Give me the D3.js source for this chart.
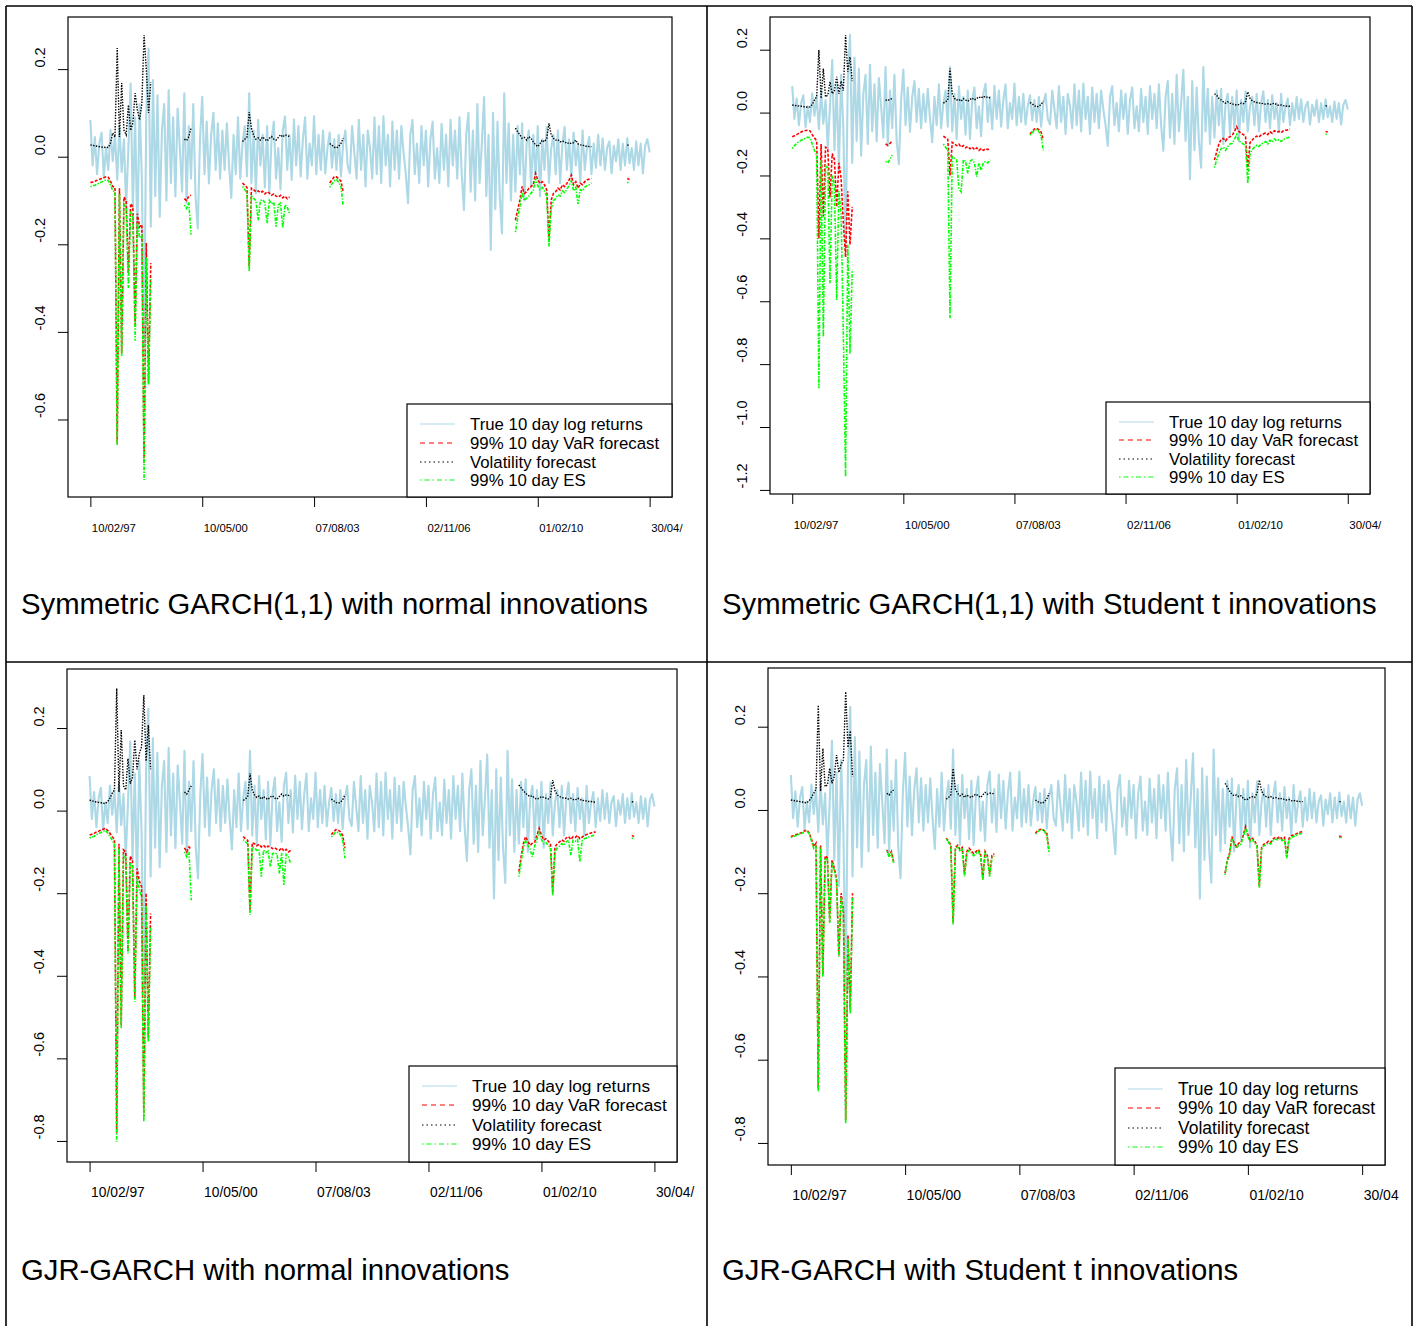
<!DOCTYPE html>
<html><head><meta charset="utf-8">
<script src="https://cdn.jsdelivr.net/npm/d3@7"></script>
<style>
html,body{margin:0;padding:0;background:#fff;}
svg{display:block;}
text{font-family:"Liberation Sans",Arial,Helvetica,sans-serif;fill:#000;}
</style></head><body>
<svg id="chart" width="1418" height="1326"></svg>
<script>
// Trading-day index of each date tick
const tickIdx = [0, 800, 1600, 2400, 3200, 4000];
const tickLabels = ["10/02/97", "10/05/00", "07/08/03", "02/11/06", "01/02/10", "30/04/"];
const tickLabelsLast = ["10/02/97", "10/05/00", "07/08/03", "02/11/06", "01/02/10", "30/04"];

const yTicksNormal = [-0.6, -0.4, -0.2, 0.0, 0.2];
const yTicksStudent = [-1.2, -1.0, -0.8, -0.6, -0.4, -0.2, 0.0, 0.2];
const yTicksGjr = [-0.8, -0.6, -0.4, -0.2, 0.0, 0.2];

// True 10 day log returns, one value every 16 trading days
const returnStep = 16;
const returns10d = [
  0.084,-0.02,0.045,-0.04,0.03,0.055,-0.046,0.02,-0.03,0.061,
  -0.01,0.05,-0.053,0.068,-0.035,0.04,-0.114,0.02,0.167,-0.12,
  0.09,-0.183,0.12,-0.05,-0.434,0.1,0.247,-0.16,0.175,-0.09,
  0.14,-0.137,0.06,0.12,-0.1,0.152,-0.06,0.09,-0.091,0.11,
  0.02,-0.08,0.145,-0.106,0.07,-0.05,0.12,-0.09,-0.164,0.04,
  0.137,-0.04,0.08,-0.061,0.05,0.1,-0.03,0.076,-0.05,0.06,
  -0.03,0.076,-0.02,-0.094,0.05,-0.04,0.09,-0.05,0.03,0.07,
  -0.045,0.145,-0.06,0.06,-0.084,0.084,-0.02,0.05,-0.07,0.07,
  -0.084,0.04,0.08,-0.05,0.02,-0.075,0.06,0.092,-0.03,0.05,
  -0.053,0.085,-0.02,0.07,-0.045,0.04,0.09,-0.05,0.03,-0.02,
  0.092,-0.04,0.05,-0.03,0.06,-0.038,0.02,0.055,-0.025,0.04,
  -0.03,0.05,-0.045,0.03,0.06,-0.02,-0.038,0.07,0.01,-0.05,
  0.084,-0.03,0.05,-0.068,0.06,0.02,-0.05,0.09,-0.04,0.07,
  -0.06,0.092,-0.02,0.05,-0.068,0.08,-0.03,0.06,-0.05,0.07,
  0.01,-0.04,-0.106,0.05,0.084,-0.04,0.03,-0.06,0.07,-0.02,
  0.06,-0.068,0.04,0.08,-0.05,0.02,-0.06,0.075,-0.03,0.05,
  -0.068,0.084,-0.02,0.06,-0.05,0.09,-0.04,-0.122,0.05,0.1,
  -0.08,0.06,-0.1,0.12,-0.06,0.03,0.136,-0.09,0.05,-0.213,
  0.1,-0.12,0.08,-0.09,-0.175,0.145,-0.06,0.076,-0.1,0.05,
  -0.08,0.07,-0.04,0.076,-0.1,0.03,0.06,-0.07,0.05,-0.05,
  0.07,-0.09,0.04,-0.03,0.068,-0.06,0.02,0.05,-0.04,0.06,
  -0.06,0.03,0.068,-0.03,0.04,-0.05,0.055,-0.02,0.03,-0.06,
  0.06,-0.03,0.02,0.045,-0.04,0.03,-0.025,0.05,-0.02,0.042,
  -0.03,0.02,0.035,-0.038,0.025,-0.01,0.04,-0.03,0.03,-0.02,
  0.042,-0.015,0.02,-0.03,0.035,-0.02,0.03,-0.038,0.025,0.04,
  0.01
];

// Forecast windows: first trading-day index of each window, values every 16 days
const segStarts = [0, 672, 1088, 1712, 3040, 3840];
const fcStep = 16;

// Symmetric GARCH(1,1), normal innovations
const garchNormVol = [
  [0.027,0.026,0.025,0.024,0.023,0.022,0.021,0.022,0.021,0.031,0.054,0.045,0.248,0.045,0.168,0.061,0.05,0.118,0.06,0.077,0.145,0.107,0.084,0.12,0.278,0.2,0.1,0.17],
  [0.04,0.037,0.046,0.065],
  [0.035,0.04,0.045,0.102,0.065,0.048,0.04,0.043,0.038,0.045,0.04,0.036,0.042,0.046,0.04,0.038,0.044,0.05,0.045,0.05,0.048,0.046],
  [0.03,0.026,0.022,0.02,0.024,0.03,0.042],
  [0.065,0.057,0.05,0.042,0.044,0.038,0.046,0.042,0.034,0.027,0.023,0.03,0.038,0.034,0.042,0.076,0.05,0.042,0.038,0.039,0.034,0.036,0.034,0.03,0.032,0.03,0.032,0.038,0.029,0.027,0.027,0.024,0.024,0.023,0.023],
  [0.027,0.025]
];
const garchNormVaR = [
  [-0.059,-0.058,-0.056,-0.054,-0.052,-0.05,-0.048,-0.046,-0.047,-0.056,-0.068,-0.07,-0.655,-0.072,-0.449,-0.092,-0.1,-0.266,-0.107,-0.115,-0.388,-0.13,-0.16,-0.155,-0.7,-0.197,-0.517,-0.243],
  [-0.096,-0.1,-0.09,-0.088],
  [-0.06,-0.065,-0.07,-0.25,-0.072,-0.075,-0.08,-0.078,-0.082,-0.079,-0.085,-0.08,-0.083,-0.088,-0.085,-0.09,-0.092,-0.088,-0.094,-0.09,-0.096,-0.092],
  [-0.06,-0.053,-0.046,-0.046,-0.05,-0.056,-0.08],
  [-0.145,-0.122,-0.099,-0.068,-0.084,-0.08,-0.072,-0.068,-0.064,-0.038,-0.053,-0.061,-0.057,-0.064,-0.076,-0.19,-0.099,-0.084,-0.08,-0.072,-0.076,-0.064,-0.068,-0.061,-0.053,-0.042,-0.064,-0.057,-0.072,-0.061,-0.064,-0.057,-0.053,-0.051,-0.049],
  [-0.05,-0.052]
];
const garchNormES = [
  [-0.068,-0.067,-0.065,-0.063,-0.06,-0.058,-0.055,-0.053,-0.055,-0.064,-0.078,-0.08,-0.66,-0.085,-0.455,-0.108,-0.115,-0.3,-0.125,-0.135,-0.42,-0.15,-0.185,-0.18,-0.738,-0.23,-0.52,-0.28],
  [-0.11,-0.118,-0.104,-0.178],
  [-0.068,-0.075,-0.082,-0.262,-0.09,-0.095,-0.1,-0.145,-0.1,-0.098,-0.105,-0.152,-0.1,-0.108,-0.104,-0.16,-0.11,-0.106,-0.162,-0.11,-0.115,-0.13],
  [-0.07,-0.062,-0.055,-0.052,-0.058,-0.068,-0.112],
  [-0.172,-0.14,-0.115,-0.082,-0.1,-0.095,-0.09,-0.083,-0.078,-0.05,-0.066,-0.075,-0.07,-0.078,-0.09,-0.205,-0.118,-0.1,-0.096,-0.087,-0.09,-0.078,-0.082,-0.074,-0.066,-0.055,-0.078,-0.07,-0.108,-0.075,-0.078,-0.07,-0.066,-0.064,-0.06],
  [-0.058,-0.062]
];

// Symmetric GARCH(1,1), Student t innovations
const garchTVol = [
  [0.024,0.023,0.022,0.021,0.02,0.019,0.018,0.017,0.018,0.026,0.04,0.05,0.199,0.045,0.14,0.05,0.055,0.098,0.06,0.07,0.114,0.06,0.1,0.07,0.246,0.13,0.177,0.1],
  [0.04,0.038,0.042,0.045],
  [0.03,0.034,0.04,0.14,0.06,0.045,0.04,0.042,0.036,0.044,0.04,0.036,0.042,0.046,0.04,0.045,0.05,0.046,0.052,0.048,0.05,0.046],
  [0.032,0.028,0.022,0.018,0.02,0.026,0.036],
  [0.06,0.055,0.045,0.04,0.034,0.03,0.034,0.03,0.028,0.025,0.024,0.026,0.03,0.028,0.035,0.066,0.045,0.038,0.034,0.032,0.03,0.03,0.028,0.027,0.028,0.026,0.028,0.03,0.025,0.023,0.024,0.022,0.021,0.02,0.02],
  [0.022,0.02]
];
const garchTVaR = [
  [-0.077,-0.074,-0.07,-0.066,-0.062,-0.059,-0.057,-0.056,-0.058,-0.07,-0.08,-0.09,-0.4,-0.1,-0.33,-0.11,-0.115,-0.27,-0.13,-0.15,-0.3,-0.16,-0.21,-0.35,-0.46,-0.25,-0.42,-0.3],
  [-0.1,-0.104,-0.098,-0.09],
  [-0.075,-0.08,-0.085,-0.2,-0.095,-0.1,-0.105,-0.1,-0.11,-0.105,-0.112,-0.108,-0.115,-0.11,-0.118,-0.112,-0.12,-0.115,-0.12,-0.115,-0.118,-0.112],
  [-0.068,-0.06,-0.052,-0.05,-0.054,-0.062,-0.087],
  [-0.151,-0.125,-0.1,-0.085,-0.082,-0.09,-0.08,-0.077,-0.072,-0.06,-0.045,-0.06,-0.066,-0.07,-0.075,-0.183,-0.095,-0.087,-0.08,-0.075,-0.078,-0.071,-0.068,-0.065,-0.07,-0.061,-0.066,-0.058,-0.062,-0.06,-0.064,-0.058,-0.056,-0.055,-0.052],
  [-0.06,-0.062]
];
const garchTES = [
  [-0.114,-0.105,-0.098,-0.092,-0.088,-0.085,-0.082,-0.078,-0.08,-0.1,-0.12,-0.135,-0.877,-0.15,-0.713,-0.17,-0.175,-0.543,-0.2,-0.23,-0.596,-0.25,-0.32,-0.702,-1.158,-0.42,-0.766,-0.5],
  [-0.155,-0.16,-0.148,-0.135],
  [-0.1,-0.11,-0.12,-0.653,-0.14,-0.145,-0.15,-0.241,-0.252,-0.15,-0.155,-0.193,-0.155,-0.15,-0.16,-0.204,-0.16,-0.183,-0.16,-0.155,-0.16,-0.15],
  [-0.072,-0.064,-0.056,-0.054,-0.06,-0.075,-0.12],
  [-0.175,-0.15,-0.13,-0.115,-0.11,-0.12,-0.108,-0.1,-0.098,-0.085,-0.07,-0.09,-0.095,-0.1,-0.105,-0.225,-0.13,-0.118,-0.11,-0.104,-0.108,-0.1,-0.096,-0.092,-0.1,-0.088,-0.094,-0.084,-0.09,-0.086,-0.092,-0.085,-0.082,-0.08,-0.076],
  [-0.068,-0.072]
];

// GJR-GARCH, normal innovations
const gjrNormVol = [
  [0.025,0.024,0.022,0.021,0.02,0.019,0.018,0.017,0.022,0.03,0.042,0.05,0.296,0.045,0.195,0.06,0.05,0.126,0.065,0.08,0.171,0.1,0.138,0.155,0.28,0.12,0.207,0.1],
  [0.045,0.04,0.05,0.06],
  [0.025,0.028,0.035,0.09,0.05,0.038,0.032,0.035,0.028,0.034,0.03,0.027,0.033,0.036,0.03,0.028,0.034,0.04,0.035,0.038,0.037,0.035],
  [0.028,0.024,0.02,0.018,0.02,0.026,0.038],
  [0.062,0.055,0.048,0.042,0.037,0.034,0.036,0.03,0.028,0.03,0.034,0.032,0.03,0.028,0.033,0.074,0.048,0.038,0.034,0.032,0.03,0.03,0.028,0.03,0.027,0.026,0.03,0.028,0.024,0.025,0.023,0.022,0.022,0.021,0.02],
  [0.022,0.02]
];
const gjrNormVaR = [
  [-0.059,-0.057,-0.055,-0.052,-0.05,-0.047,-0.045,-0.043,-0.048,-0.055,-0.063,-0.07,-0.78,-0.08,-0.52,-0.095,-0.1,-0.34,-0.11,-0.12,-0.455,-0.14,-0.17,-0.184,-0.74,-0.2,-0.55,-0.249],
  [-0.09,-0.1,-0.088,-0.095],
  [-0.063,-0.068,-0.072,-0.24,-0.078,-0.08,-0.085,-0.082,-0.088,-0.084,-0.09,-0.086,-0.088,-0.092,-0.09,-0.094,-0.096,-0.09,-0.098,-0.094,-0.1,-0.096],
  [-0.058,-0.052,-0.046,-0.047,-0.051,-0.06,-0.09],
  [-0.148,-0.112,-0.08,-0.063,-0.075,-0.084,-0.079,-0.076,-0.06,-0.043,-0.06,-0.071,-0.068,-0.074,-0.08,-0.2,-0.088,-0.08,-0.076,-0.071,-0.074,-0.066,-0.063,-0.07,-0.063,-0.065,-0.06,-0.068,-0.064,-0.06,-0.058,-0.056,-0.054,-0.052,-0.052],
  [-0.06,-0.063]
];
const gjrNormES = [
  [-0.066,-0.064,-0.062,-0.058,-0.056,-0.053,-0.05,-0.048,-0.054,-0.062,-0.072,-0.08,-0.802,-0.09,-0.527,-0.108,-0.114,-0.346,-0.125,-0.136,-0.463,-0.16,-0.19,-0.21,-0.753,-0.23,-0.56,-0.28],
  [-0.1,-0.112,-0.1,-0.217],
  [-0.07,-0.076,-0.08,-0.253,-0.088,-0.09,-0.096,-0.094,-0.16,-0.096,-0.102,-0.098,-0.136,-0.104,-0.102,-0.106,-0.152,-0.102,-0.18,-0.106,-0.112,-0.128],
  [-0.064,-0.058,-0.052,-0.053,-0.058,-0.07,-0.115],
  [-0.16,-0.124,-0.09,-0.072,-0.084,-0.094,-0.112,-0.086,-0.07,-0.052,-0.07,-0.08,-0.077,-0.084,-0.09,-0.205,-0.1,-0.09,-0.086,-0.08,-0.084,-0.075,-0.072,-0.108,-0.072,-0.074,-0.07,-0.124,-0.073,-0.068,-0.066,-0.064,-0.062,-0.06,-0.06],
  [-0.066,-0.07]
];

// GJR-GARCH, Student t innovations
const gjrTVol = [
  [0.024,0.023,0.022,0.021,0.02,0.019,0.018,0.017,0.022,0.03,0.04,0.05,0.252,0.045,0.148,0.056,0.06,0.1,0.064,0.08,0.132,0.09,0.11,0.12,0.284,0.15,0.19,0.08],
  [0.04,0.036,0.044,0.048],
  [0.026,0.03,0.036,0.1,0.05,0.04,0.034,0.038,0.03,0.036,0.032,0.03,0.035,0.038,0.034,0.03,0.036,0.042,0.038,0.04,0.04,0.038],
  [0.024,0.02,0.018,0.016,0.02,0.026,0.04],
  [0.064,0.055,0.045,0.038,0.034,0.036,0.032,0.034,0.028,0.024,0.026,0.03,0.032,0.03,0.04,0.072,0.045,0.036,0.032,0.03,0.032,0.028,0.03,0.028,0.026,0.028,0.025,0.024,0.025,0.022,0.023,0.021,0.021,0.02,0.02],
  [0.02,0.02]
];
const gjrTVaR = [
  [-0.064,-0.062,-0.06,-0.058,-0.056,-0.054,-0.05,-0.048,-0.055,-0.07,-0.088,-0.08,-0.67,-0.085,-0.395,-0.11,-0.115,-0.268,-0.12,-0.14,-0.165,-0.35,-0.2,-0.24,-0.745,-0.3,-0.48,-0.2],
  [-0.096,-0.11,-0.1,-0.125],
  [-0.068,-0.075,-0.084,-0.27,-0.09,-0.085,-0.095,-0.09,-0.155,-0.1,-0.092,-0.098,-0.105,-0.1,-0.095,-0.105,-0.165,-0.1,-0.11,-0.155,-0.11,-0.105],
  [-0.056,-0.05,-0.047,-0.046,-0.05,-0.056,-0.1],
  [-0.152,-0.12,-0.104,-0.064,-0.08,-0.088,-0.08,-0.078,-0.06,-0.04,-0.06,-0.072,-0.068,-0.075,-0.085,-0.184,-0.09,-0.082,-0.08,-0.075,-0.078,-0.07,-0.066,-0.068,-0.064,-0.07,-0.066,-0.112,-0.068,-0.062,-0.06,-0.058,-0.055,-0.053,-0.052],
  [-0.062,-0.066]
];
const gjrTES = [
  [-0.066,-0.064,-0.062,-0.06,-0.058,-0.056,-0.052,-0.05,-0.058,-0.074,-0.092,-0.084,-0.677,-0.09,-0.401,-0.116,-0.12,-0.272,-0.126,-0.146,-0.172,-0.353,-0.21,-0.25,-0.753,-0.31,-0.489,-0.21],
  [-0.098,-0.113,-0.103,-0.128],
  [-0.07,-0.078,-0.087,-0.276,-0.094,-0.089,-0.1,-0.095,-0.16,-0.104,-0.097,-0.103,-0.11,-0.105,-0.1,-0.11,-0.168,-0.105,-0.115,-0.16,-0.115,-0.11],
  [-0.058,-0.052,-0.049,-0.048,-0.052,-0.06,-0.104],
  [-0.156,-0.124,-0.108,-0.068,-0.084,-0.092,-0.084,-0.082,-0.064,-0.044,-0.064,-0.076,-0.072,-0.079,-0.089,-0.188,-0.094,-0.086,-0.084,-0.079,-0.082,-0.074,-0.07,-0.072,-0.068,-0.074,-0.07,-0.116,-0.072,-0.066,-0.064,-0.062,-0.059,-0.057,-0.056],
  [-0.065,-0.069]
];

const legendLabels = ["True 10 day log returns", "99% 10 day VaR forecast", "Volatility forecast", "99% 10 day ES"];

// ---- layout and styles ----
const styles = {
  ret: {color: "#ADD8E6", dash: null, width: 2.1},
  varF: {color: "#FF0000", dash: "3,1.6", width: 1.6},
  vol: {color: "#000000", dash: "1.4,1.4", width: 1.4},
  es: {color: "#00FF00", dash: "1.4,1.4,3.5,1.4", width: 1.6}
};
const legendStyles = [
  {color: "#ADD8E6", dash: null},
  {color: "#FF0000", dash: "5,4"},
  {color: "#000000", dash: "1.5,3"},
  {color: "#00FF00", dash: "1.5,3,5,3"}
];

const panels = [
  {title: "Symmetric GARCH(1,1) with normal innovations", vol: garchNormVol, varF: garchNormVaR, es: garchNormES,
   yTicks: yTicksNormal, yLim: [-0.777, 0.319], labels: tickLabels,
   box: {l: 68, t: 17, r: 672, b: 497}, xFont: 11.3,
   leg: {w: 265, h: 93, rows: [20, 39, 58, 76], font: 16.8}, cap: [21, 614]},
  {title: "Symmetric GARCH(1,1) with Student t innovations", vol: garchTVol, varF: garchTVaR, es: garchTES,
   yTicks: yTicksStudent, yLim: [-1.213, 0.304], labels: tickLabels,
   box: {l: 770, t: 17, r: 1370, b: 494}, xFont: 11.5,
   leg: {w: 264, h: 92, rows: [20, 38, 57, 75], font: 16.8}, cap: [722, 614]},
  {title: "GJR-GARCH with normal innovations", vol: gjrNormVol, varF: gjrNormVaR, es: gjrNormES,
   yTicks: yTicksGjr, yLim: [-0.851, 0.343], labels: tickLabels,
   box: {l: 67, t: 669, r: 677, b: 1162}, xFont: 13.8,
   leg: {w: 268, h: 96, rows: [20, 39, 59, 78], font: 17.3}, cap: [21, 1280]},
  {title: "GJR-GARCH with Student t innovations", vol: gjrTVol, varF: gjrTVaR, es: gjrTES,
   yTicks: yTicksGjr, yLim: [-0.853, 0.341], labels: tickLabelsLast,
   box: {l: 768, t: 668, r: 1385, b: 1165}, xFont: 14,
   leg: {w: 270, h: 97, rows: [21, 40, 60, 79], font: 17.5}, cap: [722, 1280]}
];

const svg = d3.select("#chart");

// outer table grid
const grid = svg.append("g").attr("stroke", "#000").attr("stroke-width", 1.6).attr("fill", "none");
[[6, 6, 1412, 6], [6, 662, 1412, 662], [6, 6, 6, 1326], [707, 6, 707, 1326], [1412, 6, 1412, 1326]]
  .forEach(([x1, y1, x2, y2]) => grid.append("line").attr("x1", x1).attr("y1", y1).attr("x2", x2).attr("y2", y2));

function drawPanel(p) {
  const g = svg.append("g");
  const x = d3.scaleLinear().domain([-160, 4160]).range([p.box.l, p.box.r]);
  const y = d3.scaleLinear().domain(p.yLim).range([p.box.b, p.box.t]);

  // true returns
  const retLine = d3.line().x((d, i) => x(i * returnStep)).y(d => y(d));
  g.append("path").datum(returns10d)
    .attr("d", retLine).attr("fill", "none")
    .attr("stroke", styles.ret.color).attr("stroke-width", styles.ret.width)
    .attr("stroke-linejoin", "round");

  // forecast windows
  function drawSeries(series, st) {
    series.forEach((vals, s) => {
      const start = segStarts[s];
      const line = d3.line().x((d, j) => x(start + j * fcStep)).y(d => y(d));
      g.append("path").datum(vals).attr("d", line).attr("fill", "none")
        .attr("stroke", st.color).attr("stroke-width", st.width)
        .attr("stroke-dasharray", st.dash);
    });
  }
  drawSeries(p.varF, styles.varF);
  drawSeries(p.vol, styles.vol);
  drawSeries(p.es, styles.es);

  // y axis
  const ya = g.append("g").attr("transform", `translate(${p.box.l},0)`)
    .call(d3.axisLeft(y).tickValues(p.yTicks).tickSize(10).tickFormat(d3.format(".1f")));
  ya.select(".domain").remove();
  ya.selectAll(".tick line").attr("stroke", "#000");
  ya.selectAll(".tick text")
    .attr("x", null).attr("dy", null).attr("text-anchor", "start")
    .attr("transform", "translate(-23,-2) rotate(-90)")
    .style("font-size", "14.5px").style("font-family", '"Liberation Sans", Arial, sans-serif')
    .attr("fill", "#000")
    .text(d => d3.format(".1f")(d).replace("−", "-"));

  // x axis
  const xa = g.append("g").attr("transform", `translate(0,${p.box.b})`)
    .call(d3.axisBottom(x).tickValues(tickIdx).tickSize(10).tickFormat((d, i) => p.labels[i]));
  xa.select(".domain").remove();
  xa.selectAll(".tick line").attr("stroke", "#000");
  xa.selectAll(".tick text")
    .attr("y", 35).attr("dy", null).attr("x", 1).attr("text-anchor", "start")
    .style("font-size", p.xFont + "px").style("font-family", '"Liberation Sans", Arial, sans-serif')
    .attr("fill", "#000");

  // plot frame
  g.append("rect").attr("x", p.box.l).attr("y", p.box.t)
    .attr("width", p.box.r - p.box.l).attr("height", p.box.b - p.box.t)
    .attr("fill", "none").attr("stroke", "#000").attr("stroke-width", 1.2);

  // legend
  const lg = g.append("g").attr("transform", `translate(${p.box.r - p.leg.w},${p.box.b - p.leg.h})`);
  lg.append("rect").attr("width", p.leg.w).attr("height", p.leg.h)
    .attr("fill", "#fff").attr("stroke", "#000").attr("stroke-width", 1.2);
  legendLabels.forEach((lab, i) => {
    const ry = p.leg.rows[i];
    lg.append("line").attr("x1", 13).attr("x2", 48).attr("y1", ry).attr("y2", ry)
      .attr("stroke", legendStyles[i].color).attr("stroke-width", 1.2)
      .attr("stroke-dasharray", legendStyles[i].dash);
    lg.append("text").attr("x", 63).attr("y", ry).attr("dy", "0.36em")
      .style("font-size", p.leg.font + "px").text(lab);
  });

  // caption
  svg.append("text").attr("x", p.cap[0]).attr("y", p.cap[1])
    .style("font-size", "29.3px").text(p.title);
}

panels.forEach(drawPanel);
</script>
</body></html>
